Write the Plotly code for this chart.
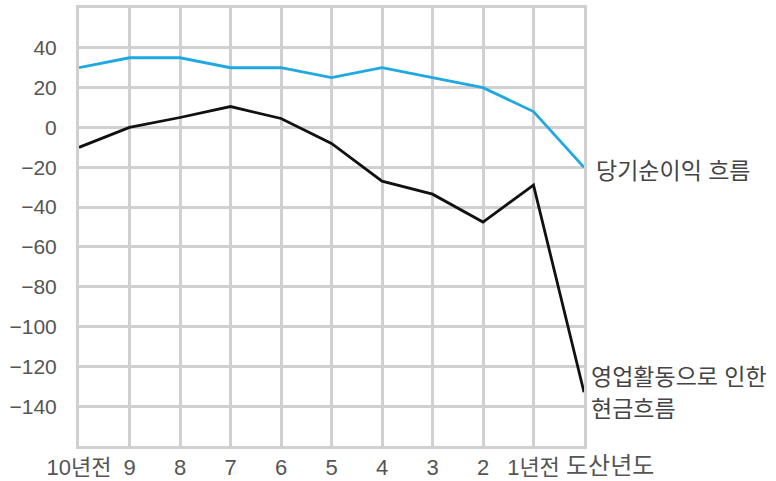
import plotly.graph_objects as go

categories = ["10년전", "9", "8", "7", "6", "5", "4", "3", "2", "1년전", "도산년도"]
net_income = [30, 35, 35, 30, 30, 25, 30, 25, 20, 8, -20]
operating_cf = [-10, 0, 5, 10.5, 4.5, -8, -27, -33.5, -47.5, -29, -133]
y_ticks = [-140, -120, -100, -80, -60, -40, -20, 0, 20, 40]
y_tick_labels = ["−140", "−120", "−100", "−80", "−60", "−40", "−20", "0", "20", "40"]
label_net = "당기순이익 흐름"
label_cf = ["영업활동으로 인한", "현금흐름"]

FONT = "Liberation Sans, Noto Sans CJK KR, sans-serif"
GRID = "#d0d0d0"
TXT = "#555555"
LBL = "#444444"

x = list(range(len(categories)))
last = len(categories) - 1

fig = go.Figure()
fig.add_trace(go.Scatter(x=x, y=net_income, mode="lines",
                         line=dict(color="#1fa8e1", width=2.8), name=label_net,
                         hoverinfo="skip"))
fig.add_trace(go.Scatter(x=x, y=operating_cf, mode="lines",
                         line=dict(color="#111111", width=2.8), name="".join(label_cf),
                         hoverinfo="skip"))

fig.update_layout(
    width=776, height=481,
    margin=dict(l=79, r=192, t=8, b=35, autoexpand=False),
    paper_bgcolor="white", plot_bgcolor="white",
    showlegend=False,
    font=dict(family=FONT, size=21, color=TXT),
)
fig.update_xaxes(
    range=[0, last],
    tickvals=x, ticktext=categories[:-1] + [""],
    showgrid=True, gridcolor=GRID, gridwidth=3,
    showline=True, mirror=True, linecolor=GRID, linewidth=3,
    zeroline=False, ticks="", ticklabelstandoff=0, automargin=False,
    tickfont=dict(size=22, color=TXT),
)
fig.update_yaxes(
    range=[-160, 60],
    tickvals=y_ticks, ticktext=y_tick_labels,
    showgrid=True, gridcolor=GRID, gridwidth=3,
    showline=True, mirror=True, linecolor=GRID, linewidth=3,
    zeroline=False, ticks="", ticklabelstandoff=15, automargin=False,
    tickfont=dict(size=21, color=TXT),
)

fig.add_annotation(x=last, y=0, yref="paper", text=categories[-1],
                   showarrow=False, xanchor="left", yanchor="middle", xshift=-20, yshift=-19,
                   font=dict(size=24, color=TXT))
fig.add_annotation(x=last, y=net_income[-1], text=label_net,
                   showarrow=False, xanchor="left", yanchor="middle", xshift=10, yshift=-4,
                   font=dict(size=23, color=LBL))
fig.add_annotation(x=last, y=operating_cf[-1], text=label_cf[0],
                   showarrow=False, xanchor="left", yanchor="middle", xshift=5, yshift=15,
                   font=dict(size=23, color=LBL))
fig.add_annotation(x=last, y=operating_cf[-1], text=label_cf[1],
                   showarrow=False, xanchor="left", yanchor="middle", xshift=5, yshift=-17,
                   font=dict(size=23, color=LBL))

fig.write_html("out.html", config={"displayModeBar": False},
               post_script="document.body.style.margin='0';document.body.style.overflow='hidden';")
